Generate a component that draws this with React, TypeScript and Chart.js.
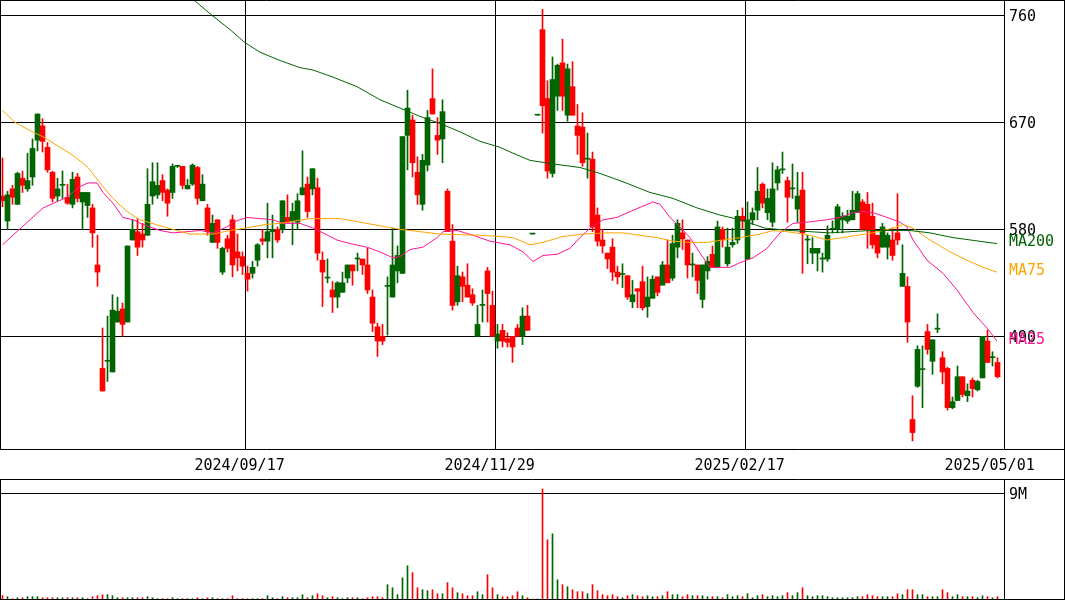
import React, { useEffect, useRef } from "react";
import { Chart, registerables } from "chart.js";

Chart.register(...registerables);

// ---- data ----
const dateLabels = ["2024/09/17", "2024/11/29", "2025/02/17", "2025/05/01"];
const dateTickIdx = [48.51, 98.51, 148.51, 198.51];
const priceTicks = [490, 580, 670, 760];
const volumeTicks = [9000000];
const volumeTickLabels = ["9M"];

const opens = [608,587,614,601,623,614,624,655,667,649,628,608,617,607,601,624,603,600,598,550,463,469,460,502,513,502,571,578,576,575,608,609,621,613,611,633,633,614,618,632,604,598,569,588,544,572,588,561,557,543,543,554,572,570,578,580,580,590,587,586,609,618,614,615,554,539,529,523,527,539,550,555,555,550,523,498,490,532,523,545,543,659,672,628,601,634,690,659,656,612,570,519,540,533,525,490,516,545,516,486,495,488,490,497,490,507,576,676,748,690,627,692,720,676,700,667,666,639,639,592,571,560,565,544,542,541,519,530,536,515,522,540,533,550,539,565,577,571,550,550,521,545,559,548,580,551,567,571,591,555,588,596,618,594,586,619,630,621,614,597,613,571,560,560,555,555,580,580,588,587,588,594,603,601,591,575,565,565,571,577,532,532,420,448,462,494,469,496,472,463,430,436,456,440,453,445,455,486,472,468];
const highs = [640,612,617,628,629,644,656,677,673,653,629,623,629,618,628,627,611,611,601,575,497,507,525,523,518,566,588,589,585,631,636,636,626,614,635,634,633,622,635,633,626,601,592,588,565,575,592,576,561,549,553,568,580,602,592,582,604,609,602,610,646,624,631,623,561,555,536,536,544,550,550,560,555,564,529,501,500,540,581,566,658,697,676,641,643,680,715,674,689,614,584,549,544,551,530,516,529,548,528,500,500,493,490,500,514,516,576,676,765,705,725,719,740,719,721,685,678,661,645,598,580,560,572,549,551,541,537,530,549,540,541,540,553,571,575,588,588,571,560,550,550,557,566,587,582,581,581,596,598,603,598,632,619,614,636,633,645,624,635,628,628,575,573,564,560,583,587,601,594,596,612,612,605,611,602,575,585,577,581,610,567,540,440,482,482,500,487,509,477,464,439,465,456,450,455,453,490,495,477,472];
const lows = [599,580,601,601,611,612,617,646,645,628,603,604,606,601,598,603,580,590,565,532,444,452,460,502,490,502,571,558,565,575,601,606,604,591,606,632,614,614,617,601,604,575,569,564,542,561,540,545,542,528,539,549,567,556,556,569,577,586,567,580,609,590,609,554,515,535,510,514,527,535,533,545,542,526,494,473,483,491,523,535,543,630,624,601,596,629,677,643,636,578,512,516,519,523,516,490,502,502,490,480,481,481,468,490,483,495,576,676,661,623,624,680,680,671,676,643,633,623,578,566,560,547,537,534,531,521,514,514,512,506,522,524,533,535,537,556,563,539,540,526,514,538,548,548,565,549,565,568,580,555,584,588,598,588,582,613,627,586,606,586,543,551,551,545,544,553,577,577,577,585,588,594,580,564,564,556,565,555,554,567,532,485,402,447,430,475,458,493,450,428,429,436,439,435,439,444,455,468,465,455];
const closes = [604,609,607,627,617,621,648,677,654,630,606,614,617,602,622,606,611,611,577,544,444,469,512,511,500,566,580,565,571,601,620,617,611,602,633,633,617,617,634,606,618,578,585,569,564,564,550,556,549,538,548,567,570,578,580,571,604,586,595,604,615,595,631,560,544,539,523,535,535,550,545,555,550,529,501,486,486,532,550,558,658,682,636,609,638,674,677,655,679,578,516,541,532,523,518,500,516,526,490,492,486,485,481,490,507,495,576,676,684,629,706,718,692,715,676,659,636,639,582,570,566,555,544,540,542,523,525,528,514,523,538,527,550,535,568,585,572,550,550,537,550,553,548,582,571,565,569,591,587,588,594,612,602,606,614,630,630,607,614,608,577,571,564,564,555,575,580,599,591,591,596,610,580,580,567,560,582,575,558,571,543,502,409,479,462,479,487,496,460,430,435,456,441,444,446,452,490,468,472,456];
// volume in thousands of shares
const volumes = [280,200,30,110,110,200,200,200,110,110,110,110,110,110,110,110,110,30,200,280,370,370,280,110,110,110,110,110,110,200,110,30,30,30,110,30,30,30,30,110,30,110,110,30,30,30,280,30,30,30,30,30,30,280,110,30,200,110,110,110,370,110,280,450,280,110,200,110,30,110,110,110,30,110,200,200,110,1220,960,370,1810,2830,2240,960,790,710,790,450,450,1390,960,540,450,280,280,620,370,2070,960,370,200,200,280,620,280,110,0,0,9370,5040,5550,1640,1220,1050,790,620,620,450,1220,710,370,280,370,200,110,280,370,280,200,280,200,200,280,620,370,370,200,370,280,280,280,200,200,200,110,370,200,280,200,450,110,280,370,200,280,200,280,540,280,540,960,280,200,280,280,200,110,110,110,110,110,200,200,370,280,200,200,200,200,450,370,790,790,370,370,200,200,200,790,540,200,370,200,200,200,110,280,200,110,200];

// moving averages: [candle index, value]
const ma25Pts = [[0,567],[8.1,598],[12.9,607],[15.5,616],[17.1,619],[18.9,619],[20.1,611],[22.1,602],[24.1,590],[26.1,588],[28.1,584],[31.5,579],[34.1,577],[36.9,578],[39.5,579],[42.1,577],[44.9,582],[46.1,586],[48.9,590],[51.5,589],[54.1,588],[56.1,585],[59.5,585],[62.1,581],[64.1,577],[66.9,571],[69.5,568],[72.9,565],[75.5,561],[78.1,556],[79.5,557],[81.5,563],[84.1,565],[86.9,573],[88.1,578],[90.9,579],[94.1,575],[97.5,570],[101.5,567],[104.1,561],[106.1,553],[108.1,558],[110.9,559],[113.5,564],[115.5,573],[117.5,581],[120.1,588],[122.9,590],[126.1,596],[130.1,603],[131.5,601],[133.5,590],[135.5,582],[137.5,573],[139.5,560],[141.5,548],[145.5,548],[147.5,552],[150.1,556],[152.9,564],[155.5,577],[158.1,585],[160.9,586],[164.9,588],[167.5,590],[170.1,594],[172.1,595],[174.1,594],[176.9,590],[179.5,586],[180.9,582],[182.1,571],[184.9,554],[188.1,543],[190.9,529],[194.1,510],[196.9,497],[198.9,486]];
const ma75Pts = [[0,680],[2.5,670],[5.5,663],[8.5,657],[11.5,649],[14.5,641],[17.1,632],[19.5,619],[22.1,606],[24.9,595],[27.5,588],[31.5,583],[34.9,579],[37.5,576],[42.1,576],[45.5,579],[48.5,581],[52.5,584],[55.5,585],[61.5,589],[67.5,589],[71.5,586],[75.5,583],[79.5,580],[83.5,578],[87.5,576],[95.5,575],[99.5,574],[102.1,573],[105.5,567],[108.1,569],[112.1,574],[116.1,576],[120.9,577],[124.1,577],[127.5,575],[130.9,573],[134.1,570],[137.5,569],[140.9,569],[144.1,571],[147.5,573],[151.5,576],[154.1,579],[156.9,578],[161.5,575],[164.9,571],[169.5,574],[174.1,577],[178.1,581],[180.1,584],[182.1,581],[185.5,571],[189.5,561],[192.9,554],[196.1,548],[198.9,544]];
const ma200Pts = [[36,781],[41.9,760],[45.5,748],[48.5,737],[51.5,729],[55.5,722],[59.5,716],[62.1,714],[66.1,708],[70.9,700],[75.5,689],[79.5,682],[83.5,675],[87.5,669],[91.5,662],[95.5,654],[99.5,649],[102.1,644],[105.5,638],[110.1,635],[115.5,632],[119.5,627],[124.1,620],[129.5,611],[134.1,606],[138.9,598],[143.5,592],[147.5,588],[152.5,581],[157.5,579],[165.5,577],[173.5,579],[181.5,579],[185.5,577],[190.1,573],[198.9,568]];

// ---- styles ----
const UP = "#006400";
const DOWN = "#ff0000";
const C25 = "#ff1493";
const C75 = "#ffa500";
const C200 = "#006400";
const FONT_FAMILY = "'DejaVu Sans Mono', monospace";
const FONT_SIZE = 15;

const X_MIN = -0.5;
const X_MAX = 200.3;

function hline(ctx: CanvasRenderingContext2D, x0: number, x1: number, y: number) {
  ctx.beginPath();
  ctx.moveTo(x0, y);
  ctx.lineTo(x1, y);
  ctx.stroke();
}
function vline(ctx: CanvasRenderingContext2D, x: number, y0: number, y1: number) {
  ctx.beginPath();
  ctx.moveTo(x, y0);
  ctx.lineTo(x, y1);
  ctx.stroke();
}

export default function App() {
  const mainRef = useRef<HTMLCanvasElement | null>(null);
  const volRef = useRef<HTMLCanvasElement | null>(null);

  useEffect(() => {
    const idx = opens.map((_, i) => i);
    const colors = idx.map((i) => (closes[i] >= opens[i] ? UP : DOWN));
    const wickData = idx.map((i) => ({ x: i, y: [lows[i], highs[i]] }));
    const bodyData = idx.map((i) => ({ x: i, y: [opens[i], closes[i]] }));
    const toXY = (pts: number[][]) => pts.map(([x, y]) => ({ x, y }));

    const mas = [
      { label: "MA200", pts: ma200Pts, color: C200 },
      { label: "MA75", pts: ma75Pts, color: C75 },
      { label: "MA25", pts: ma25Pts, color: C25 },
    ];

    const mainFrame = {
      id: "mainFrame",
      afterDraw(chart: any) {
        const ctx = chart.ctx as CanvasRenderingContext2D;
        const W = chart.width;
        const H = chart.height;
        const a = chart.chartArea;
        ctx.save();
        ctx.strokeStyle = "#000";
        ctx.lineWidth = 1;
        hline(ctx, 0, W, 0.5);
        vline(ctx, 0.5, 0, a.bottom + 0.5);
        vline(ctx, W - 0.5, 0, H);
        vline(ctx, Math.round(a.right) + 0.5, 0, a.bottom + 0.5);
        hline(ctx, 0, W, a.bottom + 0.5);
        hline(ctx, 0, W, H - 0.5);
        // MA labels
        const ys = chart.scales.y;
        ctx.font = `${FONT_SIZE}px ${FONT_FAMILY}`;
        ctx.textAlign = "left";
        ctx.textBaseline = "middle";
        for (const m of mas) {
          const v = m.pts[m.pts.length - 1][1];
          ctx.fillStyle = m.color;
          ctx.fillText(m.label, Math.round(a.right) + 5, ys.getPixelForValue(v) - 1);
        }
        ctx.restore();
      },
    };

    const volFrame = {
      id: "volFrame",
      afterDraw(chart: any) {
        const ctx = chart.ctx as CanvasRenderingContext2D;
        const W = chart.width;
        const H = chart.height;
        const a = chart.chartArea;
        ctx.save();
        ctx.strokeStyle = "#000";
        ctx.lineWidth = 1;
        vline(ctx, 0.5, 0, H);
        vline(ctx, W - 0.5, 0, H);
        vline(ctx, Math.round(a.right) + 0.5, 0, H);
        hline(ctx, 0, W, H - 0.5);
        ctx.restore();
      },
    };

    const font = { family: FONT_FAMILY, size: FONT_SIZE };

    const main = new Chart(mainRef.current as HTMLCanvasElement, {
      type: "bar",
      data: {
        datasets: [
          ...mas.map((m) => ({
            type: "line" as const,
            label: m.label,
            data: toXY(m.pts),
            borderColor: m.color,
            backgroundColor: m.color,
            borderWidth: 1,
            pointRadius: 0,
            tension: 0,
            order: 0,
          })),
          {
            type: "bar" as const,
            label: "body",
            data: bodyData as any,
            backgroundColor: colors,
            borderWidth: 0,
            barThickness: 5,
            grouped: false,
            minBarLength: 1,
            order: 1,
          },
          {
            type: "bar" as const,
            label: "wick",
            data: wickData as any,
            backgroundColor: colors,
            borderWidth: 0,
            barThickness: 1,
            grouped: false,
            order: 2,
          },
        ],
      } as any,
      options: {
        animation: false,
        responsive: false,
        maintainAspectRatio: false,
        devicePixelRatio: 1,
        layout: { padding: 0 },
        plugins: { legend: { display: false }, tooltip: { enabled: false } },
        scales: {
          x: {
            type: "linear",
            min: X_MIN,
            max: X_MAX,
            offset: false,
            afterBuildTicks: (s: any) => {
              s.ticks = dateTickIdx.map((v) => ({ value: v }));
            },
            afterFit: (s: any) => {
              s.height = 31;
              s.paddingLeft = 0;
              s.paddingRight = 0;
            },
            grid: {
              offset: false,
              color: (c: any) => (c.index === dateTickIdx.length - 1 ? "rgba(0,0,0,0)" : "#000"),
              lineWidth: 1,
              drawTicks: false,
            },
            border: { display: false },
            ticks: {
              autoSkip: false,
              maxRotation: 0,
              minRotation: 0,
              labelOffset: -5.5,
              padding: 8,
              color: "#000",
              font,
              callback: (_v: any, i: number) => dateLabels[i],
            },
          },
          y: {
            type: "linear",
            position: "right",
            min: 395.2,
            max: 772.9,
            afterBuildTicks: (s: any) => {
              s.ticks = priceTicks.map((v) => ({ value: v }));
            },
            afterFit: (s: any) => {
              s.width = 61;
              s.paddingTop = 0;
              s.paddingBottom = 0;
            },
            grid: { color: "#000", lineWidth: 1, drawTicks: false },
            border: { display: false },
            ticks: { padding: 5, labelOffset: 2, color: "#000", font, callback: (v: any) => String(v) },
          },
        },
      } as any,
      plugins: [mainFrame],
    });

    const vol = new Chart(volRef.current as HTMLCanvasElement, {
      type: "bar",
      data: {
        datasets: [
          {
            label: "volume",
            data: idx.map((i) => ({ x: i, y: volumes[i] * 1000 })) as any,
            backgroundColor: colors,
            borderWidth: 0,
            barThickness: 1,
            grouped: false,
          },
        ],
      },
      options: {
        animation: false,
        responsive: false,
        maintainAspectRatio: false,
        devicePixelRatio: 1,
        layout: { padding: { top: 0, bottom: 1, left: 0, right: 0 } },
        plugins: { legend: { display: false }, tooltip: { enabled: false } },
        scales: {
          x: {
            type: "linear",
            min: X_MIN,
            max: X_MAX,
            offset: false,
            display: false,
            grid: { offset: false },
          },
          y: {
            type: "linear",
            position: "right",
            min: 0,
            max: 10132000,
            afterBuildTicks: (s: any) => {
              s.ticks = volumeTicks.map((v) => ({ value: v }));
            },
            afterFit: (s: any) => {
              s.width = 61;
              s.paddingTop = 0;
              s.paddingBottom = 0;
            },
            grid: { color: "#000", lineWidth: 1, drawTicks: false },
            border: { display: false },
            ticks: {
              padding: 5,
              labelOffset: 2,
              color: "#000",
              font,
              callback: (_v: any, i: number) => volumeTickLabels[i],
            },
          },
        },
      } as any,
      plugins: [volFrame],
    });

    return () => {
      main.destroy();
      vol.destroy();
    };
  }, []);

  return (
    <div
      style={{
        position: "absolute",
        left: 0,
        top: 0,
        width: 1065,
        height: 600,
        background: "#fff",
        overflow: "hidden",
      }}
    >
      <canvas
        ref={mainRef}
        width={1065}
        height={480}
        style={{ position: "absolute", left: 0, top: 0, width: 1065, height: 480 }}
      />
      <canvas
        ref={volRef}
        width={1065}
        height={120}
        style={{ position: "absolute", left: 0, top: 480, width: 1065, height: 120 }}
      />
    </div>
  );
}
